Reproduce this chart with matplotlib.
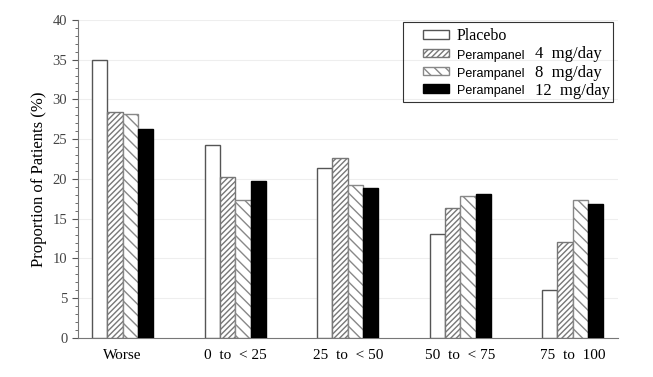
import numpy as np
import matplotlib
matplotlib.use('Agg')
import matplotlib.pyplot as plt
from matplotlib.ticker import MultipleLocator
from matplotlib.patches import Rectangle

plt.rcParams['font.family'] = 'Liberation Serif'
plt.rcParams['hatch.linewidth'] = 1.0

categories = ['Worse', '0  to  < 25', '25  to  < 50', '50  to  < 75', '75  to  100']
placebo = [35.0, 24.3, 21.4, 13.1, 6.0]
peram_4 = [28.4, 20.3, 22.6, 16.3, 12.1]
peram_8 = [28.2, 17.4, 19.2, 17.8, 17.4]
peram_12 = [26.3, 19.7, 18.9, 18.1, 16.8]
doses = ['4', '8', '12']

W, H = 653, 377
fig = plt.figure(figsize=(W / 100, H / 100), dpi=100)
ax = fig.add_axes([0.119, 0.1034, 0.827, 0.844])

x = np.arange(len(categories))
w = 0.136
styles = [
    (placebo, 'white', '', '#555555'),
    (peram_4, 'white', '//////', '#777777'),
    (peram_8, 'white', '\\\\\\', '#888888'),
    (peram_12, 'black', '', 'black'),
]
handles = []
for i, (vals, fc, hatch, ec) in enumerate(styles):
    b = ax.bar(x + (i - 1.5) * w, vals, w, facecolor=fc, hatch=hatch,
               edgecolor=ec, linewidth=1.0, zorder=3)
    handles.append(b)

ax.set_xlim(-0.4, 4.4)
ax.set_ylim(0, 40)
ax.yaxis.set_major_locator(MultipleLocator(5))
ax.yaxis.set_minor_locator(MultipleLocator(1))
ax.grid(axis='y', color='#eeeeee', linewidth=0.8, zorder=0)
ax.set_xticks(x)
ax.set_xticklabels(categories, fontsize=11)
ax.tick_params(axis='x', length=0, pad=8)
ax.tick_params(axis='y', which='major', length=4, color='#555555',
               labelsize=10.5, labelcolor='#444444')
ax.tick_params(axis='y', which='minor', length=2, color='#555555')
for s in ['top', 'right']:
    ax.spines[s].set_visible(False)
for s in ['left', 'bottom']:
    ax.spines[s].set_color('#777777')
ax.set_ylabel('Proportion of Patients (%)', fontsize=12)

# legend box drawn by hand so it spans the dose labels too
fig.patches.append(Rectangle((403 / W, 1 - 102 / H), 210 / W, 80 / H,
                             transform=fig.transFigure, fill=False,
                             edgecolor='#333333', linewidth=0.8))

labels = ['Placebo', 'Perampanel', 'Perampanel', 'Perampanel']
leg = ax.legend(handles, labels, loc='upper left',
                bbox_to_anchor=(423 / W, 1 - 28 / H),
                bbox_transform=fig.transFigure, frameon=False,
                handlelength=1.6, handleheight=0.45,
                labelspacing=0.3, borderpad=0.0, handletextpad=0.5,
                borderaxespad=0, fontsize=11.5)
for t in leg.get_texts()[1:]:
    t.set_fontfamily('Liberation Sans')
    t.set_fontsize(9)

ypix = [54, 73, 91]
for d, yp in zip(doses, ypix):
    fig.text(535 / W, 1 - yp / H, d + '  mg/day', fontsize=12,
             va='center', ha='left')

fig.savefig('out.png', dpi=100)
